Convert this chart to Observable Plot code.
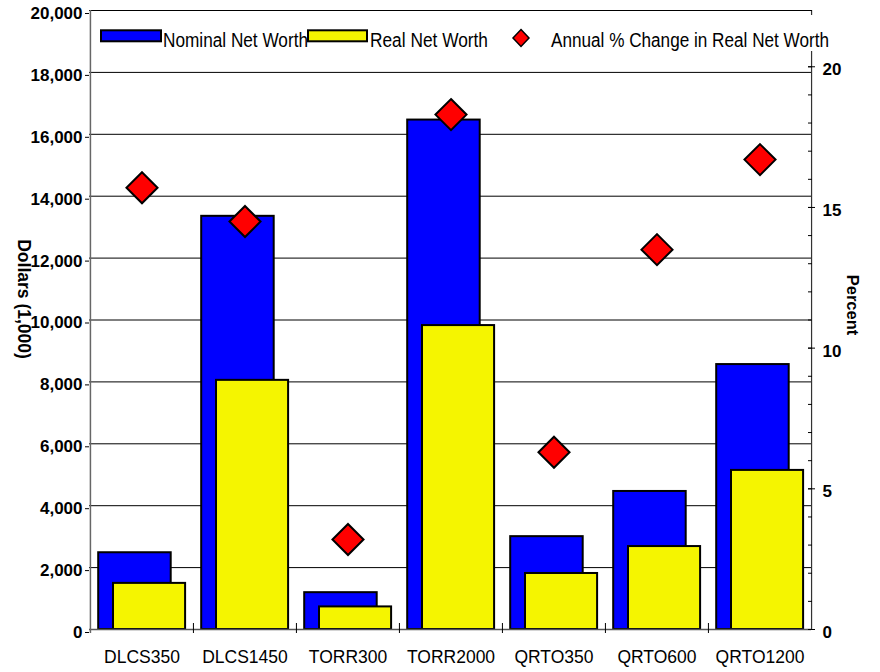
<!DOCTYPE html>
<html>
<head>
<meta charset="utf-8">
<script src="https://cdn.jsdelivr.net/npm/d3@7"></script>
<script src="https://cdn.jsdelivr.net/npm/@observablehq/plot@0.6"></script>
<style>
  html, body { margin: 0; padding: 0; background: #fff; }
  #chart { width: 880px; height: 672px; }
</style>
</head>
<body>
<div id="chart"></div>
<script>
// Net worth by scenario (thousands of dollars) and annual % change in real net worth
const categories = ["DLCS350", "DLCS1450", "TORR300", "TORR2000", "QRTO350", "QRTO600", "QRTO1200"];
const nominalNetWorth = [2480, 13350, 1190, 16460, 3000, 4460, 8560];
const realNetWorth = [1490, 8050, 730, 9820, 1810, 2680, 5140];
const annualPctChange = [15.7, 14.5, 3.2, 18.3, 6.3, 13.5, 16.7];

const dollarTicks = d3.range(0, 20001, 2000);
const percentTicks = [0, 5, 10, 15, 20];
const percentMinorTicks = d3.range(0, 23);
const seriesNames = ["Nominal Net Worth", "Real Net Worth", "Annual % Change in Real Net Worth"];

const width = 880, height = 672;
const marginTop = 10, marginBottom = 43, marginLeft = 89, marginRight = 69;
const dollarMax = 20000, percentMax = 22;
// percent values share the plot's y scale through this linear mapping
const toDollars = p => p * dollarMax / percentMax;
const bw = (width - marginLeft - marginRight) / categories.length;

const rows = categories.map((c, i) => ({
  category: c,
  nominal: nominalNetWorth[i],
  real: realNetWorth[i],
  pct: annualPctChange[i]
}));

const font = "'Liberation Sans', Arial, Helvetica, sans-serif";

const svg = Plot.plot({
  width, height, marginTop, marginBottom, marginLeft, marginRight,
  style: { fontFamily: font, fontSize: "17px", color: "#000", background: "#fff", overflow: "visible" },
  x: { type: "band", domain: categories, padding: 0, label: null },
  y: { domain: [0, dollarMax], label: null },
  marks: [
    Plot.gridY(dollarTicks, { stroke: "#000", strokeOpacity: 1, strokeWidth: 1 }),
    Plot.barY(rows, { x: "category", y: "nominal", fill: "#0000ff", stroke: "#000", strokeWidth: 2, insetLeft: 8.2, insetRight: 22.3 }),
    Plot.barY(rows, { x: "category", y: "real", fill: "#f5f500", stroke: "#000", strokeWidth: 2, insetLeft: 23, insetRight: 7.9 }),
    // axis lines
    Plot.ruleY([0], { stroke: "#555", strokeWidth: 1.5 }),
    Plot.ruleX([categories[0]], { dx: -bw / 2, stroke: "#666", strokeWidth: 1.5, insetBottom: -4 }),
    Plot.ruleX([categories[categories.length - 1]], { dx: bw / 2, stroke: "#333", strokeWidth: 1.2 }),
    // left (dollar) axis
    Plot.axisY(dollarTicks, { anchor: "left", tickSize: 4, tickPadding: 3, fontWeight: "bold", fontSize: 17, dy: 3, tickFormat: d3.format(",") }),
    // right (percent) axis: inward minor ticks, crossing major ticks, labels
    Plot.axisY(percentMinorTicks, { anchor: "right", y: toDollars, tickSize: 4, dx: -4, tickFormat: () => "" }),
    Plot.axisY(percentTicks, { anchor: "right", y: toDollars, tickSize: 7, dx: -4, tickFormat: () => "" }),
    Plot.axisY(percentTicks, { anchor: "right", y: toDollars, tickSize: 0, tickPadding: 11, fontWeight: "bold", fontSize: 17, dy: 3, tickFormat: d => String(d) }),
    // category labels and band-boundary ticks
    Plot.axisX({ tickSize: 0, tickPadding: 21, fontSize: 17.5 }),
    Plot.axisX(categories.slice(1), { tickSize: 10, dy: -6, dx: -bw / 2, tickFormat: () => "" }),
    // annual % change markers
    Plot.dot(rows, { x: "category", y: d => toDollars(d.pct), symbol: "diamond2", r: 14, fill: "#ff0000", stroke: "#000", strokeWidth: 2 })
  ]
});

const root = d3.select(svg);

// axis titles
root.append("text")
  .attr("transform", "translate(24,299) rotate(90)")
  .attr("text-anchor", "middle").attr("dy", "0.35em")
  .attr("font-family", font).attr("font-size", 17.5).attr("font-weight", "bold")
  .text("Dollars (1,000)");
root.append("text")
  .attr("transform", "translate(853,305) rotate(90)")
  .attr("text-anchor", "middle").attr("dy", "0.35em")
  .attr("font-family", font).attr("font-size", 16.5).attr("font-weight", "bold")
  .text("Percent");

// legend
const legend = root.append("g").attr("font-family", font).attr("font-size", 20).attr("text-anchor", "start");
legend.append("rect").attr("x", 97).attr("y", 15).attr("width", 740).attr("height", 36).attr("fill", "#fff");
legend.append("rect").attr("x", 101).attr("y", 30.3).attr("width", 60).attr("height", 11)
  .attr("fill", "#0000ff").attr("stroke", "#000").attr("stroke-width", 2);
legend.append("text").attr("x", 163).attr("y", 46.5).attr("textLength", 145).attr("lengthAdjust", "spacingAndGlyphs").text(seriesNames[0]);
legend.append("rect").attr("x", 308).attr("y", 30.3).attr("width", 59).attr("height", 11)
  .attr("fill", "#f5f500").attr("stroke", "#000").attr("stroke-width", 2);
legend.append("text").attr("x", 370).attr("y", 46.5).attr("textLength", 118).attr("lengthAdjust", "spacingAndGlyphs").text(seriesNames[1]);
legend.append("path").attr("d", "M521,29.5L529,38L521,46.5L513,38Z")
  .attr("fill", "#ff0000").attr("stroke", "#000").attr("stroke-width", 1.5);
legend.append("text").attr("x", 551).attr("y", 46.5).attr("textLength", 278).attr("lengthAdjust", "spacingAndGlyphs").text(seriesNames[2]);

document.getElementById("chart").appendChild(svg);
</script>
</body>
</html>
